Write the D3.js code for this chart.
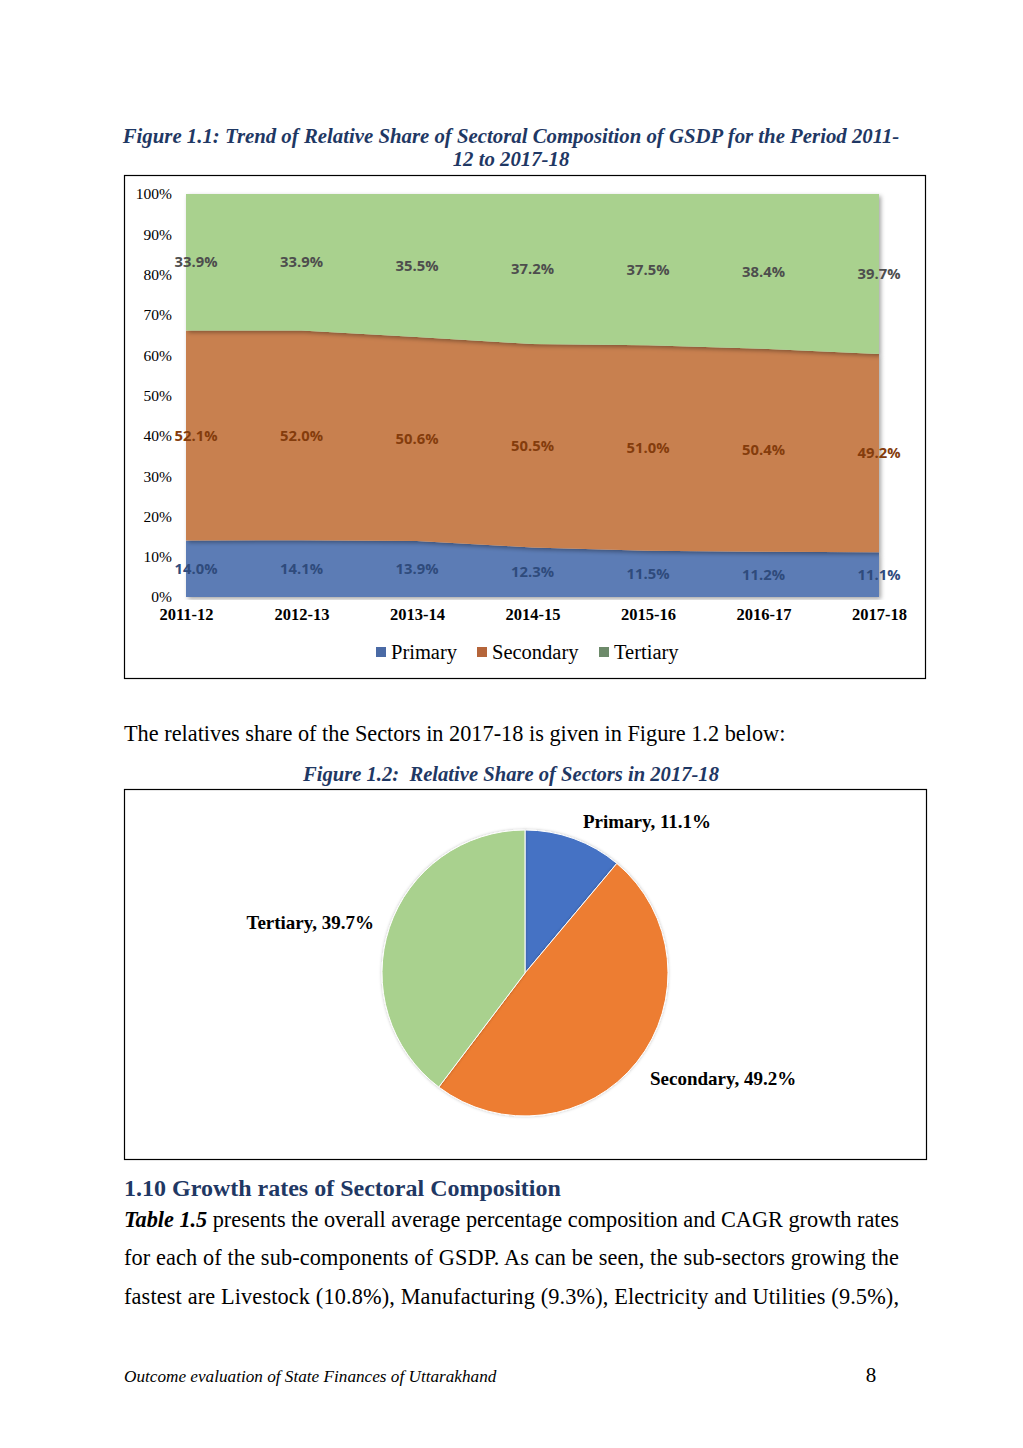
<!DOCTYPE html>
<html>
<head>
<meta charset="utf-8">
<script src="https://cdn.jsdelivr.net/npm/d3@7"></script>
<style>
  body { margin: 0; background: #fff; }
  svg { display: block; }
  svg text { font-family: "Times New Roman", Times, "Liberation Serif", Tinos, serif; }
  svg text.dl { font-family: "Open Sans", "Noto Sans", sans-serif; }
</style>
</head>
<body>
<svg id="page" width="1023" height="1448"></svg>
<script>
var years = ["2011-12", "2012-13", "2013-14", "2014-15", "2015-16", "2016-17", "2017-18"];
var primary = [14.0, 14.1, 13.9, 12.3, 11.5, 11.2, 11.1];
var secondary = [52.1, 52.0, 50.6, 50.5, 51.0, 50.4, 49.2];
var tertiary = [33.9, 33.9, 35.5, 37.2, 37.5, 38.4, 39.7];
var sectors = ["Primary", "Secondary", "Tertiary"];
var yTicks = [0, 10, 20, 30, 40, 50, 60, 70, 80, 90, 100];
var pieValues = [11.1, 49.2, 39.7];

var navy = "#1f3864";
var areaColors = ["#5b7bb5", "#c88050", "#a9d18e"];
var labelColors = ["#2f4b7c", "#843c0c", "#4d4d4d"];
var legendColors = ["#4a6aa5", "#b5653a", "#6d8a6a"];
var pieColors = ["#4472c4", "#ed7d31", "#a9d18e"];

var svg = d3.select("#page");

var defs = svg.append("defs");
var f = defs.append("filter").attr("id", "shadow")
  .attr("x", "-5%").attr("y", "-5%").attr("width", "110%").attr("height", "110%");
f.append("feDropShadow").attr("dx", 2).attr("dy", 2).attr("stdDeviation", 2)
  .attr("flood-color", "#000").attr("flood-opacity", 0.35);
var pf = defs.append("filter").attr("id", "pieshadow")
  .attr("x", "-10%").attr("y", "-10%").attr("width", "120%").attr("height", "120%");
pf.append("feDropShadow").attr("dx", 0).attr("dy", 0).attr("stdDeviation", 1.5)
  .attr("flood-color", "#000").attr("flood-opacity", 0.25);

// page titles
svg.append("text")
  .attr("x", 511).attr("y", 143)
  .attr("text-anchor", "middle")
  .attr("font-size", 20.8).attr("font-weight", "bold").attr("font-style", "italic")
  .attr("fill", navy)
  .text("Figure 1.1: Trend of Relative Share of Sectoral Composition of GSDP for the Period 2011-");
svg.append("text")
  .attr("x", 511).attr("y", 166)
  .attr("text-anchor", "middle")
  .attr("font-size", 20.8).attr("font-weight", "bold").attr("font-style", "italic")
  .attr("fill", navy)
  .text("12 to 2017-18");

// chart 1 box
svg.append("rect").attr("x", 124.5).attr("y", 175.5).attr("width", 801).attr("height", 503)
  .attr("fill", "none").attr("stroke", "#000").attr("stroke-width", 1.2);

var xScale = d3.scalePoint().domain(years).range([186, 879]);
var yScale = d3.scaleLinear().domain([0, 100]).range([597, 194]);

var table = years.map(function(y, i) {
  return { year: y, Primary: primary[i], Secondary: secondary[i], Tertiary: tertiary[i] };
});
var series = d3.stack().keys(sectors)(table);

var area = d3.area()
  .x(function(d) { return xScale(d.data.year); })
  .y0(function(d) { return yScale(d[0]); })
  .y1(function(d) { return yScale(d[1]); });

var g1 = svg.append("g");
g1.selectAll("path.area")
  .data(series)
  .enter().append("path")
  .attr("class", "area")
  .attr("d", area)
  .attr("fill", function(d, i) { return areaColors[i]; })
  .attr("filter", "url(#shadow)");

// y axis
var yAxis = d3.axisLeft(yScale).tickValues(yTicks).tickSize(0).tickPadding(0)
  .tickFormat(function(d) { return d + "%"; });
var ya = svg.append("g").attr("transform", "translate(172,0)").call(yAxis);
ya.attr("font-family", null);
ya.select(".domain").remove();
ya.selectAll("text").attr("font-size", 15.5).attr("fill", "#000");

// x axis
var xAxis = d3.axisBottom(xScale).tickSize(0).tickPadding(0);
var xa = svg.append("g").attr("transform", "translate(0,608)").call(xAxis);
xa.attr("font-family", null);
xa.select(".domain").remove();
xa.selectAll("text").attr("font-size", 16.5).attr("font-weight", "bold").attr("fill", "#000");

// data labels
series.forEach(function(s, si) {
  g1.selectAll("text.lbl" + si)
    .data(s)
    .enter().append("text")
    .attr("class", "dl lbl" + si)
    .attr("x", function(d, i) { return xScale(d.data.year) + (i === 0 ? 10 : 0); })
    .attr("y", function(d) { return yScale((d[0] + d[1]) / 2); })
    .attr("dy", "0.35em")
    .attr("text-anchor", "middle")
    .attr("font-weight", "bold")
    .attr("font-size", 14.8)
    .attr("fill", labelColors[si])
    .text(function(d) { return d3.format(".1f")(d.data[sectors[si]]) + "%"; });
});

// legend
var legendX = [376, 477, 599];
var lg = svg.append("g");
sectors.forEach(function(s, i) {
  lg.append("rect").attr("x", legendX[i]).attr("y", 647).attr("width", 10).attr("height", 10)
    .attr("fill", legendColors[i]);
  lg.append("text").attr("x", legendX[i] + 15).attr("y", 659)
    .attr("font-size", 20.5).attr("fill", "#000").text(s);
});

// text between charts
svg.append("text")
  .attr("x", 124).attr("y", 741).attr("font-size", 22.3).attr("fill", "#000")
  .text("The relatives share of the Sectors in 2017-18 is given in Figure 1.2 below:");
svg.append("text")
  .attr("x", 511).attr("y", 781)
  .attr("text-anchor", "middle")
  .attr("font-size", 20.6).attr("font-weight", "bold").attr("font-style", "italic")
  .attr("fill", navy).style("white-space", "pre")
  .text("Figure 1.2:  Relative Share of Sectors in 2017-18");

// chart 2 box
svg.append("rect").attr("x", 124.5).attr("y", 789.5).attr("width", 802).attr("height", 370)
  .attr("fill", "none").attr("stroke", "#000").attr("stroke-width", 1.2);

var arcs = d3.pie().sort(null)(pieValues);
var arc = d3.arc().innerRadius(0).outerRadius(143);
var pg = svg.append("g").attr("transform", "translate(525,973)");
pg.selectAll("path")
  .data(arcs)
  .enter().append("path")
  .attr("d", arc)
  .attr("fill", function(d, i) { return pieColors[i]; })
  .attr("stroke", "#fff").attr("stroke-width", 1)
  .attr("filter", "url(#pieshadow)");

// pie labels
var pieLabelPos = [
  { x: 647, y: 828, anchor: "middle" },
  { x: 650, y: 1085, anchor: "start" },
  { x: 374, y: 929, anchor: "end" }
];
pieValues.forEach(function(v, i) {
  svg.append("text")
    .attr("x", pieLabelPos[i].x).attr("y", pieLabelPos[i].y)
    .attr("text-anchor", pieLabelPos[i].anchor)
    .attr("font-size", 19).attr("font-weight", "bold").attr("fill", "#000")
    .text(sectors[i] + ", " + d3.format(".1f")(v) + "%");
});

// section text
svg.append("text")
  .attr("x", 124).attr("y", 1196).attr("font-size", 24).attr("font-weight", "bold")
  .attr("fill", navy).text("1.10 Growth rates of Sectoral Composition");

var para = svg.append("g").attr("font-size", 22.3).attr("fill", "#000");
var l1 = para.append("text").attr("x", 124).attr("y", 1227)
  .attr("textLength", 775).attr("lengthAdjust", "spacing");
l1.append("tspan").attr("font-weight", "bold").attr("font-style", "italic").text("Table 1.5");
l1.append("tspan").text(" presents the overall average percentage composition and CAGR growth rates");
para.append("text").attr("x", 124).attr("y", 1265)
  .attr("textLength", 775).attr("lengthAdjust", "spacing")
  .text("for each of the sub-components of GSDP. As can be seen, the sub-sectors  growing the");
para.append("text").attr("x", 124).attr("y", 1304)
  .attr("textLength", 775).attr("lengthAdjust", "spacing")
  .text("fastest are Livestock (10.8%), Manufacturing (9.3%), Electricity and Utilities (9.5%),");

// footer
svg.append("text")
  .attr("x", 124).attr("y", 1382).attr("font-size", 17.2).attr("font-style", "italic")
  .attr("fill", "#000").text("Outcome evaluation of State Finances of Uttarakhand");
svg.append("text")
  .attr("x", 871).attr("y", 1382).attr("text-anchor", "middle")
  .attr("font-size", 21).attr("fill", "#000").text("8");
</script>
</body>
</html>
